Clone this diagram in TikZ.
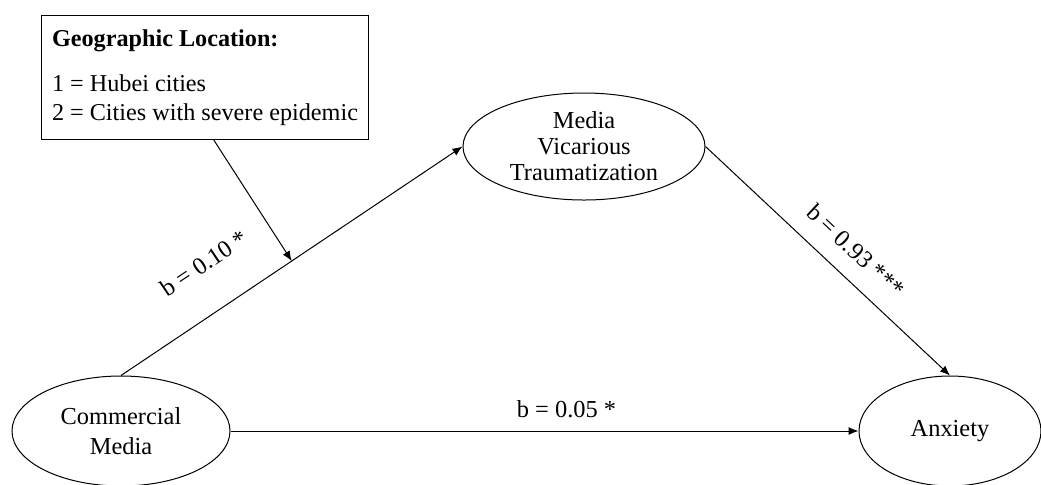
\documentclass[tikz,border=0pt]{standalone}
\usepackage{fontspec}
\setmainfont{Liberation Serif}
\usetikzlibrary{shapes.geometric, arrows.meta}

\begin{document}
\begin{tikzpicture}[x=0.5pt, y=-0.5pt]

\tikzset{construct/.style = {shape=ellipse, draw, line width=0.5pt, inner sep=0pt, align=center, font=\fontsize{12.2}{13}\selectfont}}
\tikzset{edge/.style = {-{Latex[length=5pt,width=4pt]}, line width=0.5pt}}
\tikzset{coef/.style = {font=\fontsize{12.2}{14}\selectfont}}
\tikzset{legend/.style = {draw, line width=0.5pt, anchor=north west, minimum width=163.5pt, minimum height=62pt, inner sep=0pt, align=left, font=\fontsize{12.1}{14.5}\selectfont}}

\useasboundingbox (0,0) rectangle (1041,484);

% constructs
\node[construct, minimum width=121pt, minimum height=53.5pt] (mvt) at (584,146.5) {Media\\Vicarious\\Traumatization};
\node[construct, minimum width=109pt, minimum height=55pt, font=\fontsize{12.2}{15}\selectfont] (cm) at (121,431) {Commercial\\Media};
\node[construct, minimum width=91pt, minimum height=55pt] (anx) at (950,431) {Anxiety};

% moderator
\node[legend] (geo) at (41,15) {\textbf{Geographic Location:}\\[8pt] 1 = Hubei cities\\ 2 = Cities with severe epidemic};

% paths
\draw[edge] (cm.north) -- node[coef, sloped, above=15.5pt, pos=0.32] {b = 0.10 *} coordinate[pos=0.5] (modpt) (mvt.west);
\draw[edge] (mvt.east) -- node[coef, sloped, above=5.5pt, pos=0.54] {b = 0.93 ***} (anx.north);
\draw[edge] (cm.east) -- node[coef, above=3pt, pos=0.535] {b = 0.05 *} (anx.west);
\draw[edge] (geo.-82) -- (modpt);

\end{tikzpicture}
\end{document}
